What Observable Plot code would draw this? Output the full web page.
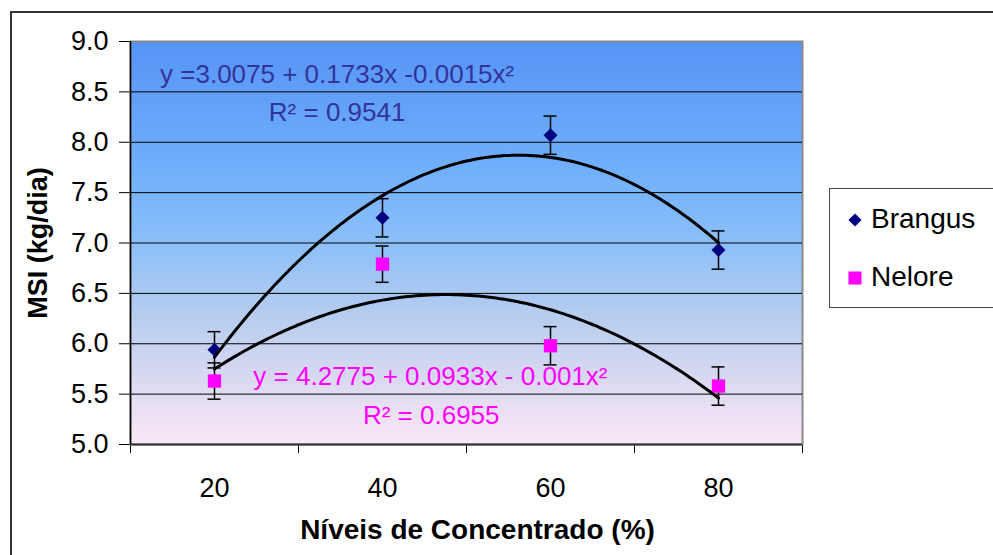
<!DOCTYPE html>
<html>
<head>
<meta charset="utf-8">
<script src="https://cdn.jsdelivr.net/npm/d3@7"></script>
<script src="https://cdn.jsdelivr.net/npm/@observablehq/plot@0.6"></script>
<style>
  body { margin: 0; background: #fff; }
  #chart { position: relative; width: 993px; height: 555px; overflow: hidden; font-family: "Liberation Sans", Arial, sans-serif; }
  #chart > svg { position: absolute; left: 0; top: 0; }
  #border { position: absolute; left: 10px; top: 11px; width: 1100px; height: 700px; border: 2px solid #333; }
  #legend { position: absolute; left: 829px; top: 188px; width: 190px; height: 118px; border: 1px solid #444; background: #fff; }
  #legend .row { position: absolute; left: 0; height: 32px; display: flex; align-items: center; font-size: 28px; }
  #legend .row svg { position: absolute; left: 17px; top: 9px; }
  #legend .row span { position: absolute; left: 41px; white-space: nowrap; line-height: 32px; }
</style>
</head>
<body>
<div id="chart"><div id="border"></div></div>
<script>
// Dry matter intake by concentrate level, two breeds
const levels = [20, 40, 60, 80];
const brangus = [5.94, 7.25, 8.07, 6.93];
const brangusErr = [0.18, 0.19, 0.19, 0.19];
const nelore = [5.63, 6.79, 5.98, 5.58];
const neloreErr = [0.18, 0.18, 0.19, 0.19];

const seriesNames = ["Brangus", "Nelore"];
const seriesColors = ["#000080", "#ff00ff"];
const seriesSymbols = ["diamond2", "square"];

const yTicks = [5.0, 5.5, 6.0, 6.5, 7.0, 7.5, 8.0, 8.5, 9.0];
const xTickMarks = [10, 30, 50, 70, 90];
const xTickLabels = [20, 40, 60, 80];

const equations = ["y =3.0075 + 0.1733x -0.0015x²", "y = 4.2775 + 0.0933x - 0.001x²"];
const rSquared = ["R² = 0.9541", "R² = 0.6955"];
const eqColors = ["#333399", "#ff00ff"];

const seriesValues = [brangus, nelore];
const seriesErrors = [brangusErr, neloreErr];

// one row per observation, with its error-bar ends
const rows = seriesNames.map((name, s) =>
  levels.map((x, i) => ({
    series: name, x, y: seriesValues[s][i],
    lo: seriesValues[s][i] - seriesErrors[s][i],
    hi: seriesValues[s][i] + seriesErrors[s][i]
  }))
);

// least-squares polynomial trend line y = a + b x + c x²
function quadFit(xs, ys) {
  const S = k => d3.sum(xs, x => x ** k);
  const T = k => d3.sum(xs, (x, i) => x ** k * ys[i]);
  const A = [[S(0), S(1), S(2), T(0)], [S(1), S(2), S(3), T(1)], [S(2), S(3), S(4), T(2)]];
  for (let i = 0; i < 3; i++) {
    for (let j = i + 1; j < 3; j++) {
      const f = A[j][i] / A[i][i];
      for (let k = i; k < 4; k++) A[j][k] -= f * A[i][k];
    }
  }
  const c = [0, 0, 0];
  for (let i = 2; i >= 0; i--) {
    let v = A[i][3];
    for (let k = i + 1; k < 3; k++) v -= A[i][k] * c[k];
    c[i] = v / A[i][i];
  }
  return c;
}

const trend = seriesNames.flatMap((name, s) => {
  const [a, b, c] = quadFit(levels, seriesValues[s]);
  return d3.range(levels[0], levels[levels.length - 1] + 0.001, 0.5)
    .map(x => ({series: name, x, y: a + b * x + c * x * x}));
});

const font = '"Liberation Sans", Arial, sans-serif';

const svg = Plot.plot({
  width: 993,
  height: 555,
  marginLeft: 130,
  marginRight: 191,
  marginTop: 41,
  marginBottom: 111,
  style: {fontFamily: font, fontSize: "27px", color: "#000", background: "transparent", overflow: "visible"},
  x: {domain: [10, 90], ticks: xTickMarks, tickFormat: () => "", tickSize: 9, label: null},
  y: {domain: [5, 9], ticks: yTicks, tickFormat: d => d.toFixed(1), tickSize: 11, tickPadding: 11, label: null},
  marks: [
    Plot.frame({fill: "#fff", stroke: "#8a8a8a", strokeWidth: 2}),
    Plot.ruleY(yTicks.filter(v => v > 5 && v < 9), {stroke: "#000", strokeWidth: 1}),
    Plot.ruleX([10], {stroke: "#000", strokeWidth: 1.5}),
    Plot.ruleY([5], {stroke: "#333", strokeWidth: 2}),
    // error bars
    ...rows.map(r => [
      Plot.ruleX(r, {x: "x", y1: "lo", y2: "hi", stroke: "#000", strokeWidth: 1.5}),
      Plot.ruleY(r, {y: "lo", x1: "x", x2: "x", insetLeft: -6.5, insetRight: -6.5, stroke: "#000", strokeWidth: 1.5}),
      Plot.ruleY(r, {y: "hi", x1: "x", x2: "x", insetLeft: -6.5, insetRight: -6.5, stroke: "#000", strokeWidth: 1.5})
    ]).flat(),
    // markers
    Plot.dot(rows[0], {x: "x", y: "y", symbol: seriesSymbols[0], fill: seriesColors[0], r: 6.3, stroke: "none"}),
    Plot.dot(rows[1], {x: "x", y: "y", symbol: seriesSymbols[1], fill: seriesColors[1], r: 7.5, stroke: "none"}),
    // polynomial trend lines
    Plot.line(trend, {x: "x", y: "y", z: "series", stroke: "#000", strokeWidth: 3, curve: "linear"}),
    // trend equations
    Plot.text([equations[0]], {x: 34.6, y: 8.592, lineAnchor: "bottom", fill: eqColors[0], fontSize: 26}),
    Plot.text([rSquared[0]], {x: 34.6, y: 8.214, lineAnchor: "bottom", fill: eqColors[0], fontSize: 26}),
    Plot.text([equations[1]], {x: 45.7, y: 5.587, lineAnchor: "bottom", fill: eqColors[1], fontSize: 26}),
    Plot.text([rSquared[1]], {x: 45.8, y: 5.199, lineAnchor: "bottom", fill: eqColors[1], fontSize: 26}),
    // x tick labels between the tick marks
    Plot.text(xTickLabels, {x: d => d, frameAnchor: "bottom", lineAnchor: "bottom", dy: 52, fontSize: 27, fill: "#000"}),
    // axis titles
    Plot.text(["Níveis de Concentrado (%)"], {frameAnchor: "bottom", textAnchor: "middle", lineAnchor: "bottom", dx: 11, dy: 94, fontSize: 28, fontWeight: "bold", fill: "#000"}),
    Plot.text(["MSI (kg/dia)"], {frameAnchor: "left", textAnchor: "middle", lineAnchor: "middle", rotate: -90, dx: -92, fontSize: 27, fontWeight: "bold", fill: "#000"})
  ]
});

// plot-area background gradient
const root = d3.select(svg);
const grad = root.insert("defs", ":first-child")
  .append("linearGradient").attr("id", "plotBg")
  .attr("x1", 0).attr("y1", 0).attr("x2", 0).attr("y2", 1);
[["0%", "#5694f6"], ["30%", "#6eaefb"], ["50%", "#8cbff9"], ["68%", "#b6cdef"], ["85%", "#dcdaf1"], ["100%", "#fce8f7"]]
  .forEach(([o, c]) => grad.append("stop").attr("offset", o).attr("stop-color", c));
let frame = root.select('[aria-label="frame"]');
if (frame.node() && frame.node().tagName.toLowerCase() !== "rect") frame = frame.select("rect");
frame.attr("fill", "url(#plotBg)");

const chart = document.getElementById("chart");
chart.appendChild(svg);

// legend
const legend = d3.select(chart).append("div").attr("id", "legend");
seriesNames.forEach((name, i) => {
  const row = legend.append("div").attr("class", "row").style("top", `${14 + i * 58}px`);
  const s = row.append("svg").attr("width", 16).attr("height", 16);
  const sym = seriesSymbols[i] === "diamond2" ? d3.symbolDiamond2 : d3.symbolSquare;
  const size = seriesSymbols[i] === "diamond2" ? 110 : 170;
  s.append("path").attr("transform", "translate(8,8)").attr("d", d3.symbol(sym, size)()).attr("fill", seriesColors[i]);
  row.append("span").text(name);
});
</script>
</body>
</html>
